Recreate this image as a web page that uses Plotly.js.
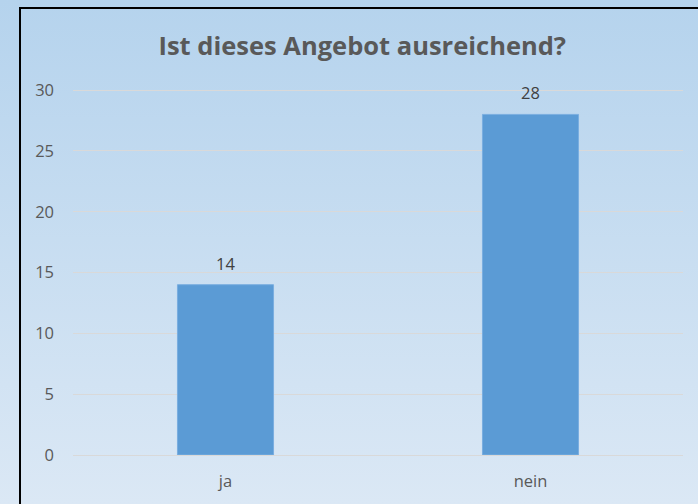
<!DOCTYPE html>
<html><head><meta charset="utf-8">
<script src="https://cdn.plot.ly/plotly-3.0.1.min.js"></script>
<style>
html,body{margin:0;padding:0;width:698px;height:504px;overflow:hidden;background:linear-gradient(#b5d3ed,#dbe8f5);}
#frame{position:absolute;left:19px;top:7px;width:720px;height:540px;border:2px solid #000;box-sizing:border-box;}
#chart{position:absolute;left:0;top:0;width:698px;height:504px;}
</style></head>
<body>
<div id="frame"></div>
<div id="chart"></div>
<script>
const categories = ["ja", "nein"];
const values = [14, 28];
const yTicks = [0, 5, 10, 15, 20, 25, 30];
const titleText = "Ist dieses Angebot ausreichend?";

const font = "Open Sans, Noto Sans, sans-serif";
const trace = {
  type: "bar", x: categories, y: values,
  marker: {color: "#5b9bd5", line: {color: "#7aaee0", width: 1}},
  width: 0.315, hoverinfo: "none"
};
const annotations = categories.map((c, i) => ({
  x: c, y: values[i], xref: "x", yref: "y", text: String(values[i]),
  showarrow: false, yanchor: "bottom", yshift: 8,
  font: {family: font, size: 16.5, color: "#404040"}
}));
const layout = {
  width: 698, height: 504,
  margin: {l: 73, r: 15, t: 84, b: 49},
  paper_bgcolor: "rgba(0,0,0,0)", plot_bgcolor: "rgba(0,0,0,0)",
  showlegend: false,
  title: {text: "<b>" + titleText + "</b>", x: 0.519, xanchor: "center", y: 0.908, yanchor: "middle",
    font: {family: font, size: 25.5, color: "#595959"}},
  xaxis: {type: "category", range: [-0.5, 1.5], showgrid: false, zeroline: false, showline: false,
    ticks: "", ticklabelstandoff: 14, tickfont: {family: font, size: 16.5, color: "#595959"}},
  yaxis: {range: [0, 30.5], tickvals: yTicks, ticktext: yTicks.map(String), showgrid: true,
    gridcolor: "#d9d9d9", gridwidth: 1, zeroline: true, zerolinecolor: "#d9d9d9", zerolinewidth: 1,
    showline: false, ticks: "", ticklabelstandoff: 18, tickfont: {family: font, size: 16.5, color: "#595959"}},
  annotations: annotations
};
Plotly.newPlot("chart", [trace], layout, {staticPlot: true, displayModeBar: false});
</script>
</body></html>
